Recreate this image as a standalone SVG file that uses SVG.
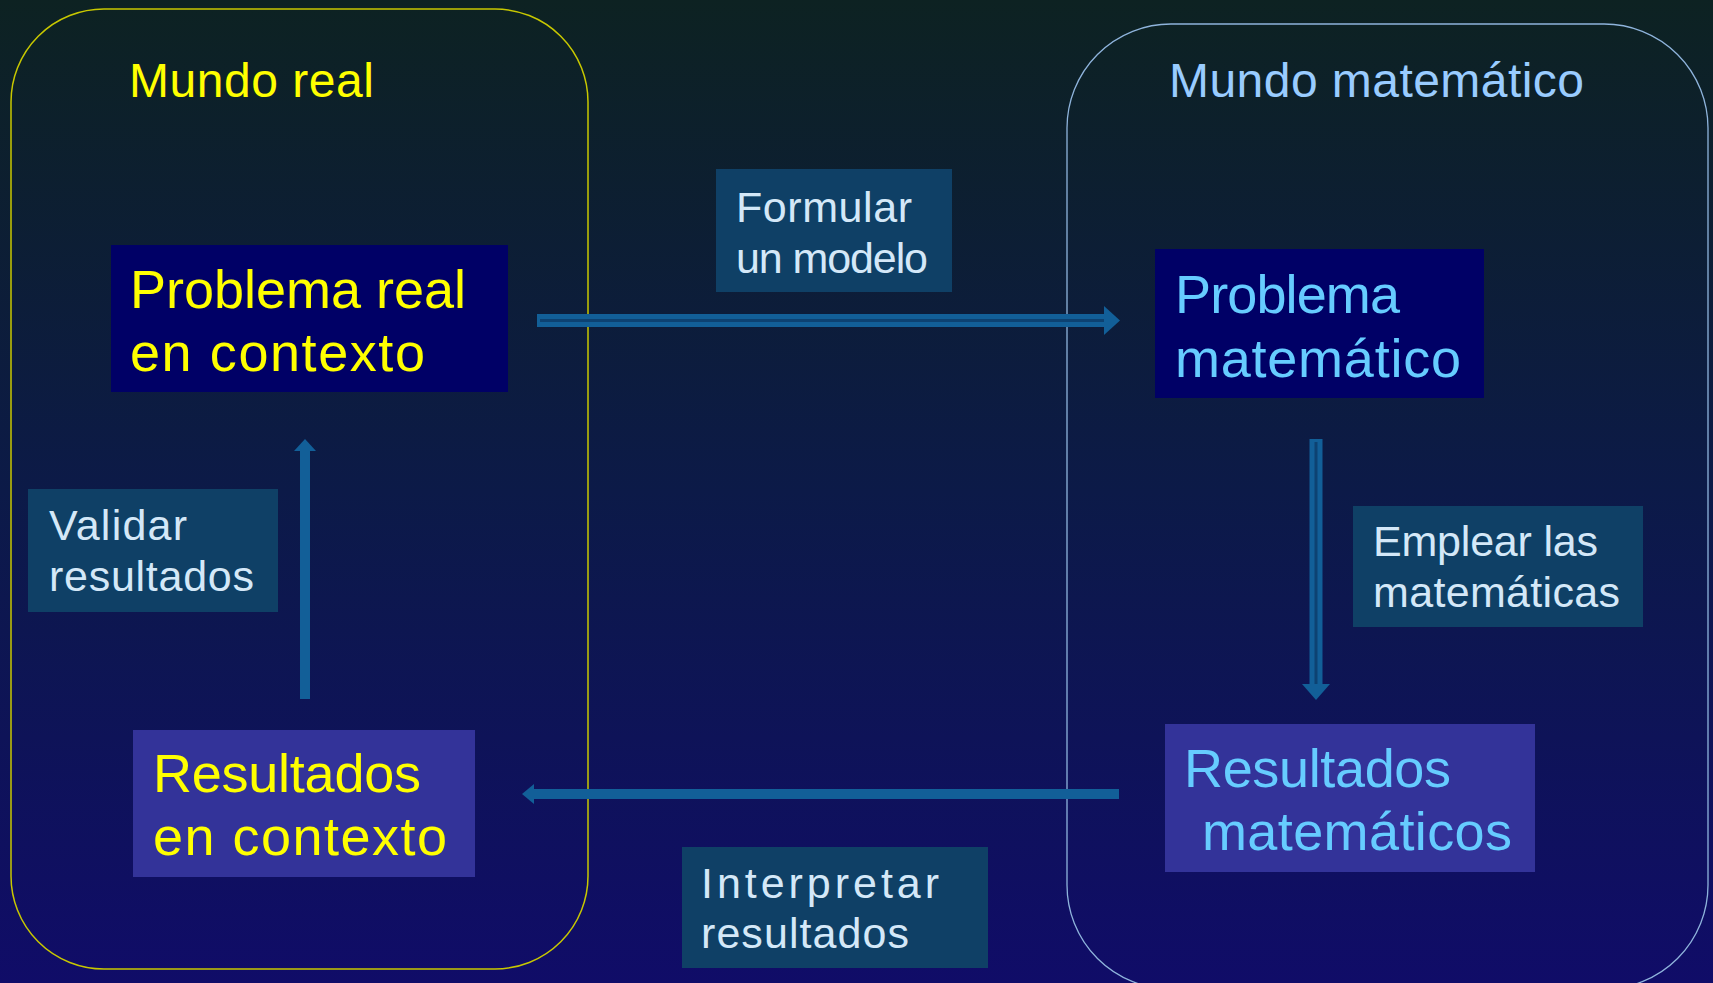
<svg xmlns="http://www.w3.org/2000/svg" width="1713" height="983" viewBox="0 0 1713 983">
<defs>
<linearGradient id="bg" x1="0" y1="0" x2="0" y2="1">
<stop offset="0" stop-color="#0d2222"/>
<stop offset="0.5" stop-color="#0c1a48"/>
<stop offset="1" stop-color="#100c68"/>
</linearGradient>
<style>
text{font-family:"Comic Sans MS","Liberation Sans",sans-serif}
.title{font-size:48px}
.node{font-size:54px}
.lbl{font-size:43px;fill:#d4e8f8}
.lblbox{fill:#0f4066}
.dark{fill:#000066}
.mid{fill:#333399}
.yel{fill:#ffff00}
.cyan{fill:#66ccff}
.band{fill:#125f98}
.core{stroke:#0d4272;stroke-width:3}
.solid{stroke:#125f98;stroke-width:10;fill:none}
</style>
</defs>
<rect width="1713" height="983" fill="url(#bg)"/>
<g id="mundo-real">
<rect x="11" y="9" width="577" height="960" rx="93" fill="none" stroke="#c8c800" stroke-width="1.5"/>
<text class="title" x="129" y="97" fill="#ffff00" textLength="245" lengthAdjust="spacing">Mundo real</text>
</g>
<g id="mundo-matematico">
<rect x="1067" y="24" width="641" height="965" rx="104" fill="none" stroke="#8fb4dc" stroke-width="1.3"/>
<text class="title" x="1169" y="97" fill="#99ccff" textLength="415" lengthAdjust="spacing">Mundo matemático</text>
</g>
<g id="connectors">
<g id="c-formular">
<rect class="band" x="537" y="314" width="570" height="13"/>
<line class="core" x1="540" y1="320.5" x2="1104" y2="320.5"/>
<polygon class="band" points="1104,306 1120,320.5 1104,335"/>
</g>
<g id="c-emplear">
<rect class="band" x="1309.5" y="439" width="13" height="246"/>
<line class="core" x1="1316" y1="442" x2="1316" y2="685"/>
<polygon class="band" points="1302,684 1316,700 1330,684"/>
</g>
<g id="c-validar">
<line class="solid" x1="305" y1="699" x2="305" y2="450"/>
<polygon class="band" points="294,451 305,439 316,451"/>
</g>
<g id="c-interpretar">
<line class="solid" x1="1119" y1="794" x2="532" y2="794"/>
<polygon class="band" points="534,784 522,794 534,804"/>
</g>
</g>
<g id="n-problema-real">
<rect class="dark" x="111" y="245" width="397" height="147"/>
<text class="node yel" x="130" y="308" textLength="336" lengthAdjust="spacing">Problema real</text>
<text class="node yel" x="130" y="371" textLength="295" lengthAdjust="spacing">en contexto</text>
</g>
<g id="n-problema-mat">
<rect class="dark" x="1155" y="249" width="329" height="149"/>
<text class="node cyan" x="1175" y="313" textLength="225" lengthAdjust="spacing">Problema</text>
<text class="node cyan" x="1175" y="377" textLength="286" lengthAdjust="spacing">matemático</text>
</g>
<g id="n-resultados-contexto">
<rect class="mid" x="133" y="730" width="342" height="147"/>
<text class="node yel" x="153" y="792" textLength="268" lengthAdjust="spacing">Resultados</text>
<text class="node yel" x="153" y="855" textLength="294" lengthAdjust="spacing">en contexto</text>
</g>
<g id="n-resultados-mat">
<rect class="mid" x="1165" y="724" width="370" height="148"/>
<text class="node cyan" x="1184" y="787" textLength="267" lengthAdjust="spacing">Resultados</text>
<text class="node cyan" x="1202" y="850" textLength="310" lengthAdjust="spacing">matemáticos</text>
</g>
<g id="l-formular">
<rect class="lblbox" x="716" y="169" width="236" height="123"/>
<text class="lbl" x="736" y="222" textLength="176" lengthAdjust="spacing">Formular</text>
<text class="lbl" x="736" y="273" textLength="192" lengthAdjust="spacing">un modelo</text>
</g>
<g id="l-validar">
<rect class="lblbox" x="28" y="489" width="250" height="123"/>
<text class="lbl" x="49" y="540" textLength="138" lengthAdjust="spacing">Validar</text>
<text class="lbl" x="49" y="591" textLength="205" lengthAdjust="spacing">resultados</text>
</g>
<g id="l-emplear">
<rect class="lblbox" x="1353" y="506" width="290" height="121"/>
<text class="lbl" x="1373" y="556" textLength="225" lengthAdjust="spacing">Emplear las</text>
<text class="lbl" x="1373" y="607" textLength="247" lengthAdjust="spacing">matemáticas</text>
</g>
<g id="l-interpretar">
<rect class="lblbox" x="682" y="847" width="306" height="121"/>
<text class="lbl" x="701" y="898" textLength="238" lengthAdjust="spacing">Interpretar</text>
<text class="lbl" x="701" y="948" textLength="208" lengthAdjust="spacing">resultados</text>
</g>
</svg>
